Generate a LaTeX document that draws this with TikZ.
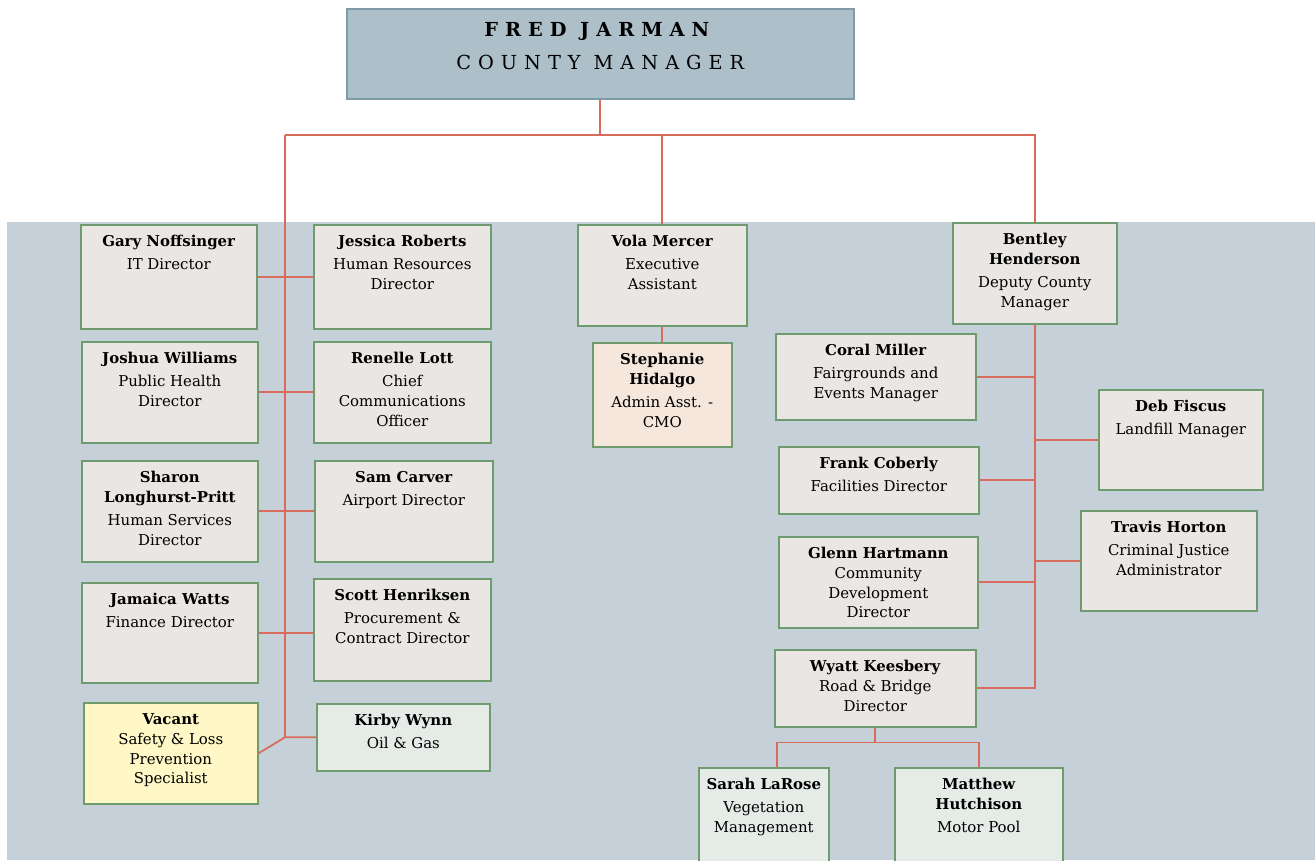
\documentclass[tikz,border=0pt]{standalone}
\usepackage{fontspec}
\setmainfont{DejaVu Serif}
\newfontfamily\spacedfont[LetterSpace=36]{DejaVu Serif}
\definecolor{panel}{HTML}{C6D0D8}
\definecolor{mgrfill}{HTML}{ADBFC9}
\definecolor{mgrline}{HTML}{7F9AA8}
\definecolor{cardfill}{HTML}{E9E6E3}
\definecolor{cardline}{HTML}{6E9C6E}
\definecolor{linkred}{HTML}{D96B5C}
\definecolor{vacantfill}{HTML}{FFF8C6}
\definecolor{peachfill}{HTML}{F5E7DC}
\definecolor{mintfill}{HTML}{E5EBE6}
\newlength{\pxu}\setlength{\pxu}{0.02cm}
\newcommand{\cardtext}[3]{\parbox[t][#2\pxu][t]{#1\pxu}{\centering\rule{0pt}{12.5pt}#3}}

\begin{document}
\begin{tikzpicture}[x=0.02cm,y=-0.02cm,
    card/.style={draw=cardline, fill=cardfill, line width=0.9pt, inner sep=0pt, anchor=north west, font=\fontsize{8.5}{11.2}\selectfont},
    link/.style={draw=linkred, line width=1pt}]
    \useasboundingbox (0,0) rectangle (1315,860);
    \fill[white] (0,0) rectangle (1315,860);
    \fill[panel] (7,222) rectangle (1315,860);

    \node[card, draw=mgrline, fill=mgrfill, minimum width=507\pxu, minimum height=90\pxu, align=center,
        font=\spacedfont\fontsize{11}{19}\selectfont] (mgr) at (346,8) {\textbf{FRED JARMAN}\\COUNTY MANAGER\rule[-9pt]{0pt}{0pt}};

    % left side
    \node[card] (gary) at (80,224) {\cardtext{176}{104}{\textbf{Gary Noffsinger}\\[2pt]IT Director}};
    \node[card] (joshua) at (81,341) {\cardtext{176}{101}{\textbf{Joshua Williams}\\[2pt]Public Health\\Director}};
    \node[card] (sharon) at (81,460) {\cardtext{176}{101}{\textbf{Sharon}\\\textbf{Longhurst-Pritt}\\[2pt]Human Services\\Director}};
    \node[card] (jamaica) at (81,582) {\cardtext{176}{100}{\textbf{Jamaica Watts}\\[2pt]Finance Director}};
    \node[card, fill=vacantfill] (vacant) at (83,702) {\cardtext{174}{101}{\textbf{Vacant}\\Safety \& Loss\\Prevention\\Specialist}};
    \node[card] (jessica) at (313,224) {\cardtext{177}{104}{\textbf{Jessica Roberts}\\[2pt]Human Resources\\Director}};
    \node[card] (renelle) at (313,341) {\cardtext{177}{101}{\textbf{Renelle Lott}\\[2pt]Chief\\Communications\\Officer}};
    \node[card] (sam) at (314,460) {\cardtext{178}{101}{\textbf{Sam Carver}\\[2pt]Airport Director}};
    \node[card] (scott) at (313,578) {\cardtext{177}{102}{\textbf{Scott Henriksen}\\[2pt]Procurement \&\\Contract Director}};
    \node[card, fill=mintfill] (kirby) at (316,703) {\cardtext{173}{67}{\textbf{Kirby Wynn}\\[2pt]Oil \& Gas}};

    % middle
    \node[card] (vola) at (577,224) {\cardtext{169}{101}{\textbf{Vola Mercer}\\[2pt]Executive\\Assistant}};
    \node[card, fill=peachfill] (stephanie) at (592,342) {\cardtext{139}{104}{\textbf{Stephanie}\\\textbf{Hidalgo}\\[2pt]Admin Asst. -\\CMO}};

    % right side
    \node[card] (bentley) at (952,222) {\cardtext{164}{101}{\textbf{Bentley}\\\textbf{Henderson}\\[2pt]Deputy County\\Manager}};
    \node[card] (coral) at (775,333) {\cardtext{200}{86}{\textbf{Coral Miller}\\[2pt]Fairgrounds and\\Events Manager}};
    \node[card] (deb) at (1098,389) {\cardtext{164}{100}{\textbf{Deb Fiscus}\\[2pt]Landfill Manager}};
    \node[card] (frank) at (778,446) {\cardtext{200}{67}{\textbf{Frank Coberly}\\[2pt]Facilities Director}};
    \node[card] (travis) at (1080,510) {\cardtext{176}{100}{\textbf{Travis Horton}\\[2pt]Criminal Justice\\Administrator}};
    \node[card] (glenn) at (778,536) {\cardtext{199}{91}{\textbf{Glenn Hartmann}\\Community\\Development\\Director}};
    \node[card] (wyatt) at (774,649) {\cardtext{201}{77}{\textbf{Wyatt Keesbery}\\Road \& Bridge\\Director}};
    \node[card, fill=mintfill] (sarah) at (698,767) {\cardtext{130}{100}{\textbf{Sarah LaRose}\\[2pt]Vegetation\\Management}};
    \node[card, fill=mintfill] (matthew) at (894,767) {\cardtext{168}{100}{\textbf{Matthew}\\\textbf{Hutchison}\\[2pt]Motor Pool}};

    \coordinate (lbus) at (285,135);
    \draw[link] (mgr.south) |- (lbus);
    \draw[link] (mgr.south) |- (bentley.north |- lbus) -- (bentley.north);
    \draw[link] (vola.north) -- (vola.north |- lbus);
    \draw[link] (lbus) -- (lbus |- kirby.west);
    \draw[link] (gary.east) -- (jessica.west);
    \draw[link] (joshua.east) -- (renelle.west);
    \draw[link] (sharon.east) -- (sam.west);
    \draw[link] (jamaica.east) -- (scott.west |- jamaica.east);
    \draw[link] (vacant.east) -- (lbus |- kirby.west) -- (kirby.west);
    \draw[link] (vola.south) -- (stephanie.north);

    \draw[link] (bentley.south) |- (wyatt.east);
    \foreach \n in {coral,frank,glenn}
        \draw[link] (\n.east) -- (\n.east -| bentley.south);
    \foreach \n in {deb,travis}
        \draw[link] (\n.west) -- (\n.west -| bentley.south);
    \draw[link] (wyatt.south) -- ++(0,15) -| ([xshift=13\pxu]sarah.north);
    \draw[link] (wyatt.south) -- ++(0,15) -| (matthew.north);
\end{tikzpicture}
\end{document}
